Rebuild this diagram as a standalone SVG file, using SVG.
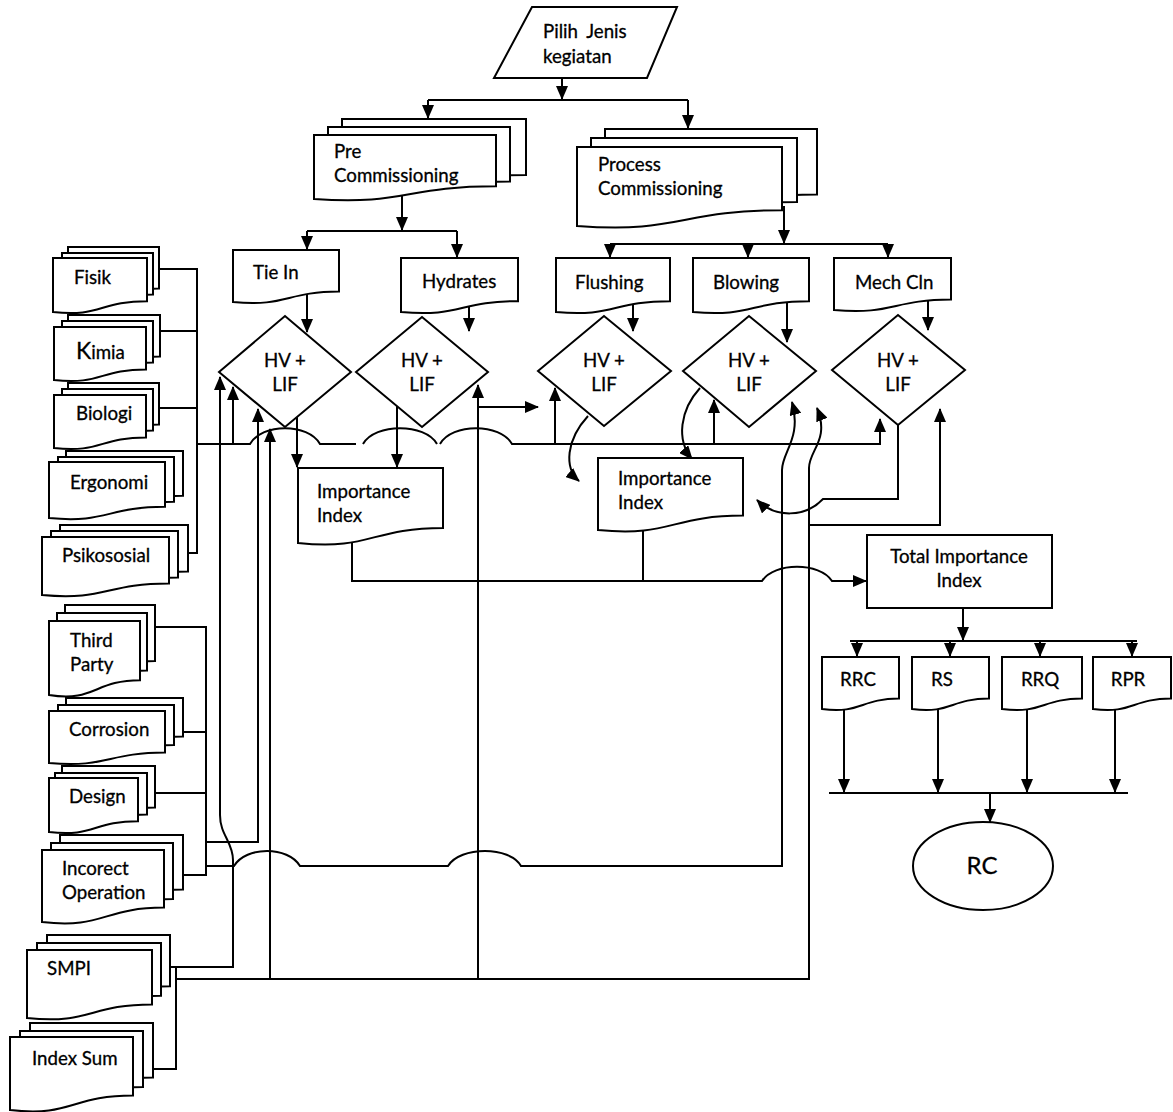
<svg xmlns="http://www.w3.org/2000/svg" xmlns:xlink="http://www.w3.org/1999/xlink" width="1173" height="1112" viewBox="0 0 1173 1112">
  <defs>
    <style>
      .shape { fill: #fff; stroke: #000; stroke-width: 2; }
      .lbl { font-family: Lato, "Liberation Sans", sans-serif; font-size: 18.7px; fill: #000; stroke: #000; stroke-width: 0.3px; }
      .mid { text-anchor: middle; }
      .big { font-size: 24px; }
      #connectors path { fill: none; stroke: #000; stroke-width: 2; }
      .arr { marker-end: url(#ah); }
    </style>
    <marker id="ah" viewBox="0 0 14 12" refX="13" refY="6" markerWidth="14" markerHeight="12" markerUnits="userSpaceOnUse" orient="auto">
      <path d="M0,0L14,6L0,12Z" fill="#000"/>
    </marker>
    <!-- document page with wavy bottom edge, stretched to any box -->
    <symbol id="doc" viewBox="0 0 100 100" preserveAspectRatio="none" overflow="visible">
      <path d="M0,0H100V80C50,80 50,110 0,100Z" fill="#fff" stroke="#000" stroke-width="2" vector-effect="non-scaling-stroke"/>
    </symbol>
  </defs>
  <rect width="1173" height="1112" fill="#fff"/>

  <g id="connectors">
    <path class="arr" d="M562,78V99"/>
    <path d="M428,100H688"/>
    <path class="arr" d="M428,100V118"/>
    <path class="arr" d="M688,100V128"/>
    <path class="arr" d="M402,188V230"/>
    <path d="M307,231H457"/>
    <path class="arr" d="M307,231V249"/>
    <path class="arr" d="M457,231V257"/>
    <path class="arr" d="M784,206V243"/>
    <path d="M610,244H888"/>
    <path class="arr" d="M610,244V257"/>
    <path class="arr" d="M748,244V257"/>
    <path class="arr" d="M888,244V257"/>
    <path class="arr" d="M307,294V332"/>
    <path class="arr" d="M469,303V331"/>
    <path class="arr" d="M633,303V331"/>
    <path class="arr" d="M787,303V342"/>
    <path class="arr" d="M928,301V330"/>
    <!-- hazard sources bus -->
    <path d="M160,269H197V553H188M160,331H197M160,408H197"/>
    <path class="arr" d="M197,444H250C262,423 308,423 320,444H356M363,444C375,423 425,423 437,444M440,444C452,423 500,423 512,444H880V419"/>
    <path class="arr" d="M233,444V387"/>
    <path class="arr" d="M555,444V388"/>
    <path class="arr" d="M714,444V400"/>
    <path class="arr" d="M297,417V467"/>
    <path class="arr" d="M397,406V467"/>
    <path class="arr" d="M478,979V385"/>
    <path class="arr" d="M478,407H538"/>
    <path class="arr" d="M588,416C566,440 564,468 579,481"/>
    <path class="arr" d="M700,388C680,410 676,440 692,459"/>
    <!-- failure sources bus -->
    <path d="M155,627H206V875H178M183,732H206M155,793H206"/>
    <path class="arr" d="M206,842H258V409"/>
    <path class="arr" d="M206,866H234C246,846 288,846 300,866H448C460,846 510,846 521,866H782V470C782,452 802,438 792,402"/>
    <!-- SMPI / index sum bus -->
    <path class="arr" d="M170,967H233V860C233,842 220,835 220,815V377"/>
    <path d="M176,967V1069H147"/>
    <path class="arr" d="M176,979H809V468C809,450 830,440 817,408"/>
    <path class="arr" d="M270,979V429"/>
    <path class="arr" d="M809,525H940V409"/>
    <path class="arr" d="M898,425V499H823C805,518 775,518 757,500"/>
    <!-- importance index to total -->
    <path class="arr" d="M352,538V581H762C774,562 820,562 832,581H866"/>
    <path d="M643,526V581"/>
    <path class="arr" d="M963,608V640"/>
    <path d="M850,641H1137"/>
    <path class="arr" d="M857,641V656"/>
    <path class="arr" d="M950,641V656"/>
    <path class="arr" d="M1040,641V656"/>
    <path class="arr" d="M1132,641V656"/>
    <path class="arr" d="M844,706V792"/>
    <path class="arr" d="M938,706V792"/>
    <path class="arr" d="M1027,706V792"/>
    <path class="arr" d="M1115,706V792"/>
    <path d="M829,793H1128"/>
    <path class="arr" d="M990,793V822"/>
  </g>

  <g id="nodes">
    <g id="pilih-jenis">
      <polygon class="shape" points="532,7 677,7 647,78 494,78"/>
      <text class="lbl" x="543" y="38" word-spacing="4">Pilih Jenis</text>
      <text class="lbl" x="543" y="63">kegiatan</text>
    </g>

    <g id="pre-commissioning">
      <use xlink:href="#doc" x="342" y="119" width="184" height="70"/>
      <use xlink:href="#doc" x="328" y="127" width="182" height="68"/>
      <use xlink:href="#doc" x="314" y="135" width="182" height="64"/>
      <text class="lbl" x="334" y="158">Pre</text>
      <text class="lbl" x="334" y="182">Commissioning</text>
    </g>

    <g id="process-commissioning">
      <use xlink:href="#doc" x="605" y="129" width="212" height="82"/>
      <use xlink:href="#doc" x="591" y="138" width="206" height="80"/>
      <use xlink:href="#doc" x="577" y="147" width="205" height="79"/>
      <text class="lbl" x="598" y="171">Process</text>
      <text class="lbl" x="598" y="195">Commissioning</text>
    </g>

    <g id="tie-in">
      <use xlink:href="#doc" x="233" y="250" width="106" height="52"/>
      <text class="lbl" x="253" y="279">Tie In</text>
    </g>
    <g id="hydrates">
      <use xlink:href="#doc" x="401" y="258" width="117" height="54"/>
      <text class="lbl" x="422" y="288">Hydrates</text>
    </g>
    <g id="flushing">
      <use xlink:href="#doc" x="556" y="258" width="114" height="54"/>
      <text class="lbl" x="575" y="289">Flushing</text>
    </g>
    <g id="blowing">
      <use xlink:href="#doc" x="693" y="258" width="116" height="54"/>
      <text class="lbl" x="713" y="289">Blowing</text>
    </g>
    <g id="mech-cln">
      <use xlink:href="#doc" x="834" y="258" width="117" height="52"/>
      <text class="lbl" x="855" y="289">Mech Cln</text>
    </g>

    <g id="hv-lif-1">
      <polygon class="shape" points="219,372 285,316 351,372 285,427"/>
      <text class="lbl mid" x="285" y="367">HV +</text>
      <text class="lbl mid" x="285" y="391">LIF</text>
    </g>
    <g id="hv-lif-2">
      <polygon class="shape" points="356,372 422,317 488,372 422,427"/>
      <text class="lbl mid" x="422" y="367">HV +</text>
      <text class="lbl mid" x="422" y="391">LIF</text>
    </g>
    <g id="hv-lif-3">
      <polygon class="shape" points="538,371 604,316 671,371 604,426"/>
      <text class="lbl mid" x="604" y="367">HV +</text>
      <text class="lbl mid" x="604" y="391">LIF</text>
    </g>
    <g id="hv-lif-4">
      <polygon class="shape" points="683,371 749,316 816,371 749,427"/>
      <text class="lbl mid" x="749" y="367">HV +</text>
      <text class="lbl mid" x="749" y="391">LIF</text>
    </g>
    <g id="hv-lif-5">
      <polygon class="shape" points="832,370 898,315 965,370 898,425"/>
      <text class="lbl mid" x="898" y="367">HV +</text>
      <text class="lbl mid" x="898" y="391">LIF</text>
    </g>

    <g id="fisik">
      <use xlink:href="#doc" x="68" y="247" width="91" height="52"/>
      <use xlink:href="#doc" x="62" y="253" width="91" height="52"/>
      <use xlink:href="#doc" x="53" y="258" width="94" height="54"/>
      <text class="lbl" x="74" y="284">Fisik</text>
    </g>
    <g id="kimia">
      <use xlink:href="#doc" x="68" y="315" width="92" height="52"/>
      <use xlink:href="#doc" x="62" y="321" width="91" height="52"/>
      <use xlink:href="#doc" x="54" y="327" width="92" height="53"/>
      <text class="lbl" x="76" y="359"><tspan font-size="23">K</tspan>imia</text>
    </g>
    <g id="biologi">
      <use xlink:href="#doc" x="68" y="383" width="91" height="52"/>
      <use xlink:href="#doc" x="62" y="389" width="91" height="52"/>
      <use xlink:href="#doc" x="54" y="395" width="92" height="53"/>
      <text class="lbl" x="76" y="420">Biologi</text>
    </g>
    <g id="ergonomi">
      <use xlink:href="#doc" x="66" y="451" width="117" height="56"/>
      <use xlink:href="#doc" x="58" y="457" width="116" height="56"/>
      <use xlink:href="#doc" x="49" y="462" width="116" height="56"/>
      <text class="lbl" x="70" y="489">Ergonomi</text>
    </g>
    <g id="psikososial">
      <use xlink:href="#doc" x="60" y="525" width="128" height="58"/>
      <use xlink:href="#doc" x="51" y="531" width="127" height="58"/>
      <use xlink:href="#doc" x="42" y="537" width="127" height="58"/>
      <text class="lbl" x="62" y="562">Psikososial</text>
    </g>

    <g id="third-party">
      <use xlink:href="#doc" x="65" y="605" width="90" height="70"/>
      <use xlink:href="#doc" x="57" y="613" width="90" height="72"/>
      <use xlink:href="#doc" x="49" y="621" width="91" height="74"/>
      <text class="lbl" x="70" y="647">Third</text>
      <text class="lbl" x="70" y="671">Party</text>
    </g>
    <g id="corrosion">
      <use xlink:href="#doc" x="66" y="698" width="117" height="48"/>
      <use xlink:href="#doc" x="58" y="705" width="116" height="50"/>
      <use xlink:href="#doc" x="49" y="711" width="116" height="52"/>
      <text class="lbl" x="69" y="736">Corrosion</text>
    </g>
    <g id="design">
      <use xlink:href="#doc" x="62" y="766" width="93" height="52"/>
      <use xlink:href="#doc" x="55" y="773" width="92" height="52"/>
      <use xlink:href="#doc" x="49" y="778" width="89" height="54"/>
      <text class="lbl" x="69" y="803">Design</text>
    </g>
    <g id="incorect-operation">
      <use xlink:href="#doc" x="60" y="835" width="123" height="68"/>
      <use xlink:href="#doc" x="51" y="843" width="122" height="70"/>
      <use xlink:href="#doc" x="42" y="850" width="122" height="72"/>
      <text class="lbl" x="62" y="875">Incorect</text>
      <text class="lbl" x="62" y="899">Operation</text>
    </g>
    <g id="smpi">
      <use xlink:href="#doc" x="47" y="935" width="123" height="64"/>
      <use xlink:href="#doc" x="37" y="943" width="124" height="66"/>
      <use xlink:href="#doc" x="27" y="950" width="125" height="68"/>
      <text class="lbl" x="47" y="975">SMPI</text>
    </g>
    <g id="index-sum">
      <use xlink:href="#doc" x="30" y="1023" width="123" height="68"/>
      <use xlink:href="#doc" x="20" y="1031" width="123" height="70"/>
      <use xlink:href="#doc" x="10" y="1037" width="123" height="73"/>
      <text class="lbl" x="32" y="1065">Index Sum</text>
    </g>

    <g id="importance-index-1">
      <use xlink:href="#doc" x="298" y="468" width="145" height="75"/>
      <text class="lbl" x="317" y="498">Importance</text>
      <text class="lbl" x="317" y="522">Index</text>
    </g>
    <g id="importance-index-2">
      <use xlink:href="#doc" x="598" y="458" width="145" height="72"/>
      <text class="lbl" x="618" y="485">Importance</text>
      <text class="lbl" x="618" y="509">Index</text>
    </g>

    <g id="total-importance-index">
      <rect class="shape" x="867" y="535" width="185" height="73"/>
      <text class="lbl mid" x="959" y="563">Total Importance</text>
      <text class="lbl mid" x="959" y="587">Index</text>
    </g>

    <g id="rrc">
      <use xlink:href="#doc" x="822" y="657" width="77" height="52"/>
      <text class="lbl mid" x="858" y="686">RRC</text>
    </g>
    <g id="rs">
      <use xlink:href="#doc" x="912" y="657" width="77" height="52"/>
      <text class="lbl mid" x="942" y="686">RS</text>
    </g>
    <g id="rrq">
      <use xlink:href="#doc" x="1002" y="657" width="80" height="52"/>
      <text class="lbl mid" x="1040" y="686">RRQ</text>
    </g>
    <g id="rpr">
      <use xlink:href="#doc" x="1093" y="657" width="78" height="52"/>
      <text class="lbl mid" x="1128" y="686">RPR</text>
    </g>

    <g id="rc">
      <ellipse class="shape" cx="983" cy="866" rx="70" ry="44"/>
      <text class="lbl mid big" x="982" y="874">RC</text>
    </g>
  </g>
</svg>
